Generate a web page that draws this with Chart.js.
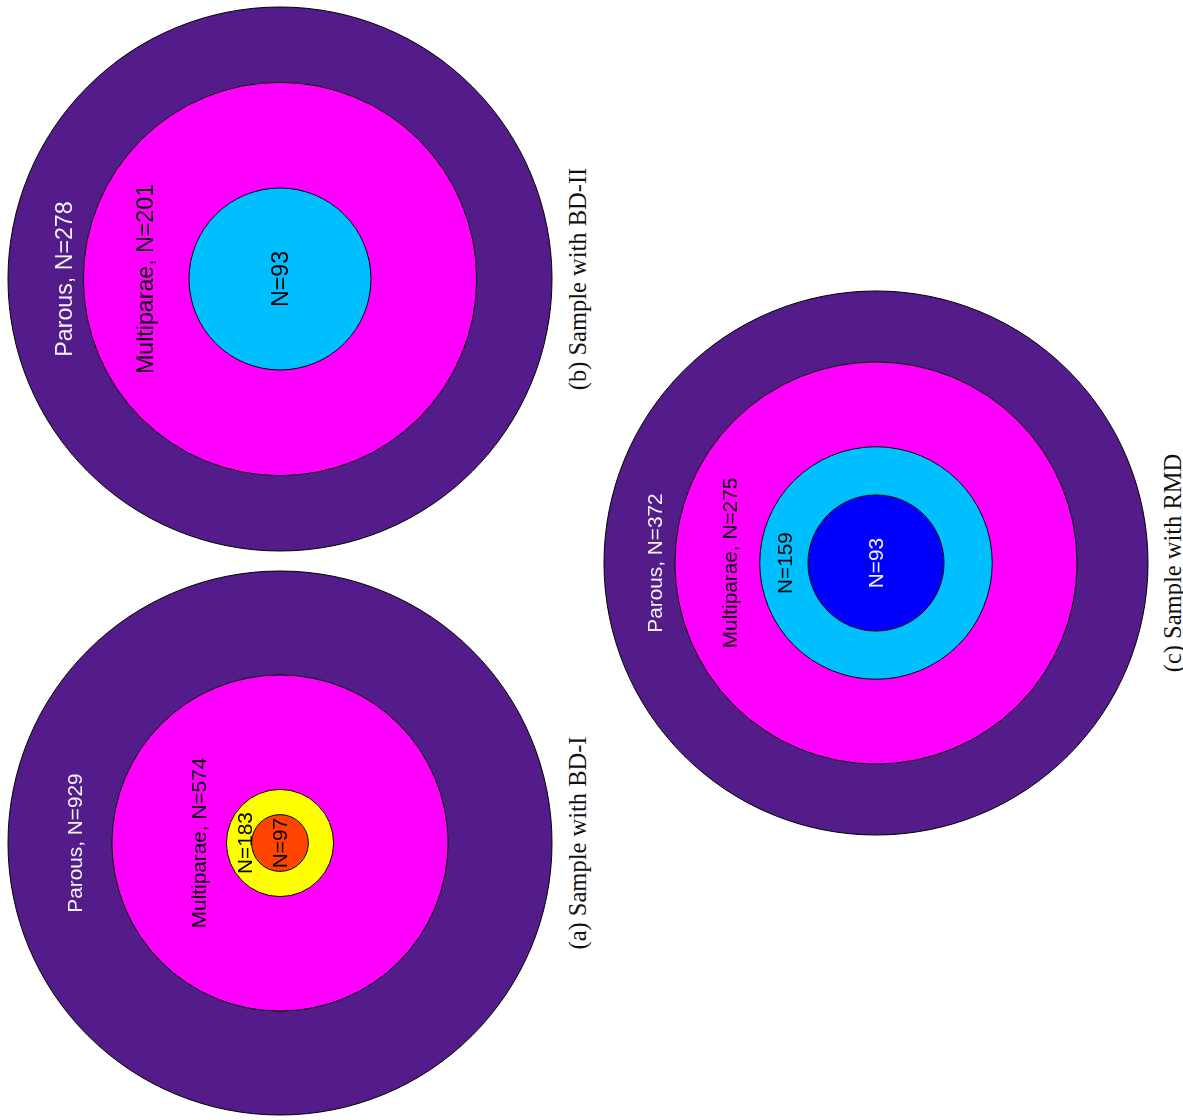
<!DOCTYPE html>
<html><head><meta charset="utf-8">
<script src="https://cdn.jsdelivr.net/npm/chart.js@4.4.1/dist/chart.umd.min.js"></script>
<style>
html,body{margin:0;padding:0;background:#fff;}
body{width:1183px;height:1120px;position:relative;overflow:hidden;}
canvas.panel{position:absolute;}
.cap{position:absolute;font-family:"Liberation Serif","Times New Roman",serif;font-size:24.5px;color:#111;white-space:nowrap;line-height:1;transform:translate(-50%,-50%) rotate(-90deg);}
</style></head><body>
<canvas class="panel" id="ca" width="560" height="560" style="left:0px;top:563px"></canvas>
<canvas class="panel" id="cb" width="560" height="560" style="left:0px;top:-1px"></canvas>
<canvas class="panel" id="cc" width="560" height="560" style="left:595.5px;top:282.5px"></canvas>
<div class="cap" id="capA" style="left:578px;top:843px"></div>
<div class="cap" id="capB" style="left:578px;top:279px"></div>
<div class="cap" id="capC" style="left:1173px;top:562.5px"></div>
<script>
// ---- data ----
const countsBD1 = [929, 574, 183, 97];
const namesBD1  = ["Parous", "Multiparae", null, null];
const countsBD2 = [278, 201, 93];
const namesBD2  = ["Parous", "Multiparae", null];
const countsRMD = [372, 275, 159, 93];
const namesRMD  = ["Parous", "Multiparae", null, null];
const captionA = "(a) Sample with BD-I";
const captionB = "(b) Sample with BD-II";
const captionC = "(c) Sample with RMD";

// ---- style / layout ----
const colorsBD1 = ["#541b8a", "#ff00ff", "#ffff00", "#ff4500"];
const colorsBD2 = ["#541b8a", "#ff00ff", "#00bfff"];
const colorsRMD = ["#541b8a", "#ff00ff", "#00bfff", "#0000ff"];
const textBD1 = ["#f4f4f4", "#000", "#000", "#000"];
const textBD2 = ["#f4f4f4", "#000", "#000"];
const textRMD = ["#f4f4f4", "#000", "#000", "#f4f4f4"];
// label distance from centre, as fraction of outer radius
const posBD1 = [0.756, 0.298, 0.130, 0];
const posBD2 = [0.795, 0.497, 0];
const posRMD = [0.815, 0.537, 0.338, 0];
const fontBD1 = 20.8, fontBD2 = 23.2, fontRMD = 20.8;

function makeChart(id, counts, names, colors, textColors, labelFrac, fontSize) {
  const datasets = counts.map((n, i) => ({
    label: names[i] ? names[i] + ", N=" + n : "N=" + n,
    data: [1],
    weight: n - (counts[i + 1] || 0),
    backgroundColor: colors[i],
    borderWidth: 0
  }));
  new Chart(document.getElementById(id), {
    type: 'doughnut',
    data: { labels: [''], datasets },
    options: {
      responsive: false,
      animation: false,
      cutout: 0,
      radius: 272,
      events: [],
      layout: { padding: 0 },
      plugins: { legend: { display: false }, tooltip: { enabled: false } }
    },
    plugins: [{
      id: 'ringsAndLabels',
      afterDatasetsDraw(chart) {
        const ctx = chart.ctx;
        const outer = chart.getDatasetMeta(0).data[0];
        const R = outer.outerRadius;
        ctx.save();
        ctx.strokeStyle = '#000';
        ctx.lineWidth = 1;
        chart.data.datasets.forEach((ds, i) => {
          const arc = chart.getDatasetMeta(i).data[0];
          ctx.beginPath();
          ctx.arc(arc.x, arc.y, arc.outerRadius, 0, Math.PI * 2);
          ctx.stroke();
        });
        ctx.font = fontSize + 'px "Liberation Sans", Arial, sans-serif';
        ctx.textAlign = 'center';
        ctx.textBaseline = 'alphabetic';
        chart.data.datasets.forEach((ds, i) => {
          const d = labelFrac[i] * R;
          ctx.save();
          ctx.translate(outer.x - d, outer.y);
          ctx.rotate(-Math.PI / 2);
          ctx.fillStyle = textColors[i];
          ctx.fillText(ds.label, 0, 0.358 * fontSize);
          ctx.restore();
        });
        ctx.restore();
      }
    }]
  });
}

makeChart('ca', countsBD1, namesBD1, colorsBD1, textBD1, posBD1, fontBD1);
makeChart('cb', countsBD2, namesBD2, colorsBD2, textBD2, posBD2, fontBD2);
makeChart('cc', countsRMD, namesRMD, colorsRMD, textRMD, posRMD, fontRMD);
document.getElementById('capA').textContent = captionA;
document.getElementById('capB').textContent = captionB;
document.getElementById('capC').textContent = captionC;
</script>
</body></html>
